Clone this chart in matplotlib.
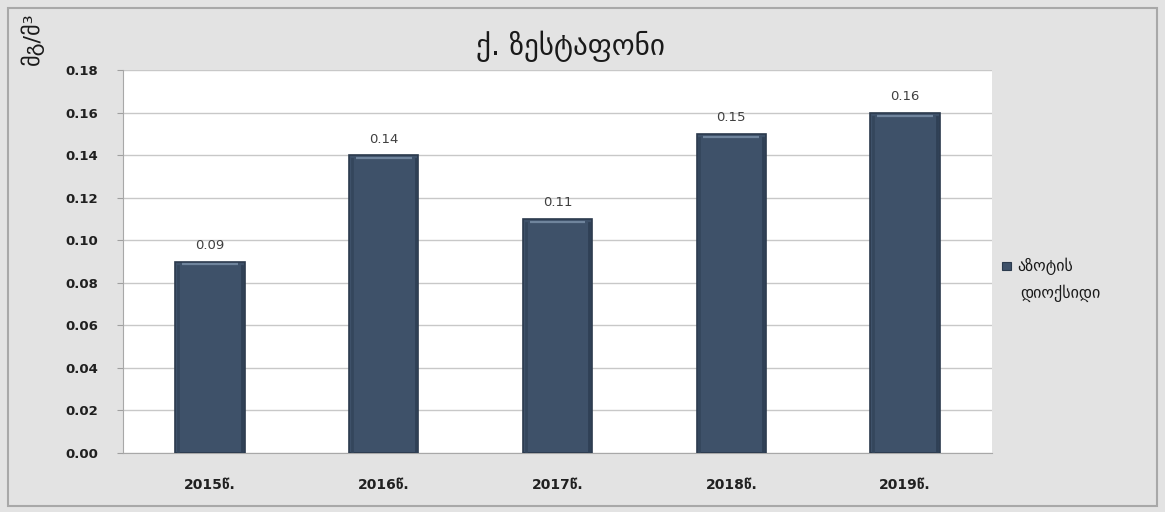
import matplotlib
matplotlib.use("Agg")
import matplotlib.pyplot as plt
from matplotlib.patches import Rectangle
from matplotlib.lines import Line2D

plt.rcParams['font.family'] = ['DejaVu Sans']

# Data
years = ["2015წ.", "2016წ.", "2017წ.", "2018წ.", "2019წ."]
no2 = [0.09, 0.14, 0.11, 0.15, 0.16]
yticks = [0.00, 0.02, 0.04, 0.06, 0.08, 0.10, 0.12, 0.14, 0.16, 0.18]
title = "ქ. ზესტაფონი"
ylabel = "მგ/მ³"
series_name = ["აზოტის", "დიოქსიდი"]

bar_color = "#3e5169"
edge_color = "#2b3a4d"
bg_color = "#e3e3e3"

fig = plt.figure(figsize=(11.65, 5.12), dpi=100, facecolor=bg_color)

# outer frame of the chart
fig.add_artist(Rectangle((0.007, 0.012), 0.986, 0.972, transform=fig.transFigure,
                         fill=False, edgecolor="#a8a8a8", linewidth=1.5))

ax = fig.add_axes([0.1056, 0.1152, 0.7459, 0.7481])
ax.set_facecolor("white")

x = list(range(len(years)))
bars = ax.bar(x, no2, width=0.4, color=bar_color, edgecolor=edge_color,
              linewidth=1.2, zorder=3)

# bevel highlight near the top of each bar and darker side edges
for rect in bars:
    bx, bw, bh = rect.get_x(), rect.get_width(), rect.get_height()
    ax.add_line(Line2D([bx + bw * 0.1, bx + bw * 0.9], [bh - 0.0014, bh - 0.0014],
                       color="#6f849c", linewidth=1.6, zorder=4, solid_capstyle="butt"))
    ax.add_line(Line2D([bx + bw * 0.04, bx + bw * 0.04], [0.0005, bh - 0.002],
                       color="#34465c", linewidth=2, zorder=4))
    ax.add_line(Line2D([bx + bw * 0.96, bx + bw * 0.96], [0.0005, bh - 0.002],
                       color="#2f4055", linewidth=2, zorder=4))

for xi, v in zip(x, no2):
    ax.text(xi, v + 0.0045, f"{v:.2f}", ha="center", va="bottom",
            fontsize=9.5, color="#404040", zorder=5)

ax.set_xlim(-0.5, len(years) - 0.5)
ax.set_ylim(0, 0.18)
ax.set_yticks(yticks)
ax.set_yticklabels([f"{t:.2f}" for t in yticks], fontsize=9.5, fontweight="bold",
                   color="#202020")
ax.set_xticks(x)
ax.set_xticklabels(years, fontsize=10, fontweight="bold", color="#202020")
ax.tick_params(axis="x", length=0, pad=18)
ax.tick_params(axis="y", length=4, color="#a0a0a0", pad=14)

ax.grid(axis="y", color="#c8c8c8", linewidth=1, zorder=0)
for side in ("top", "right"):
    ax.spines[side].set_visible(False)
ax.spines["left"].set_color("#a8a8a8")
ax.spines["bottom"].set_color("#a8a8a8")

fig.text(0.49, 0.91, title, ha="center", va="center", fontsize=21, color="#1a1a1a")
fig.text(0.028, 0.925, ylabel, ha="center", va="center", rotation=90,
         fontsize=16, color="#1a1a1a")

# legend
fig.add_artist(Rectangle((0.8605, 0.472), 0.0075, 0.017, transform=fig.transFigure,
                         facecolor=bar_color, edgecolor=edge_color, linewidth=0.8))
fig.text(0.873, 0.479, series_name[0], ha="left", va="center", fontsize=11.5,
         color="#1a1a1a")
fig.text(0.8755, 0.428, series_name[1], ha="left", va="center", fontsize=11.5,
         color="#1a1a1a")

fig.savefig("out.png", dpi=100, facecolor=bg_color)
